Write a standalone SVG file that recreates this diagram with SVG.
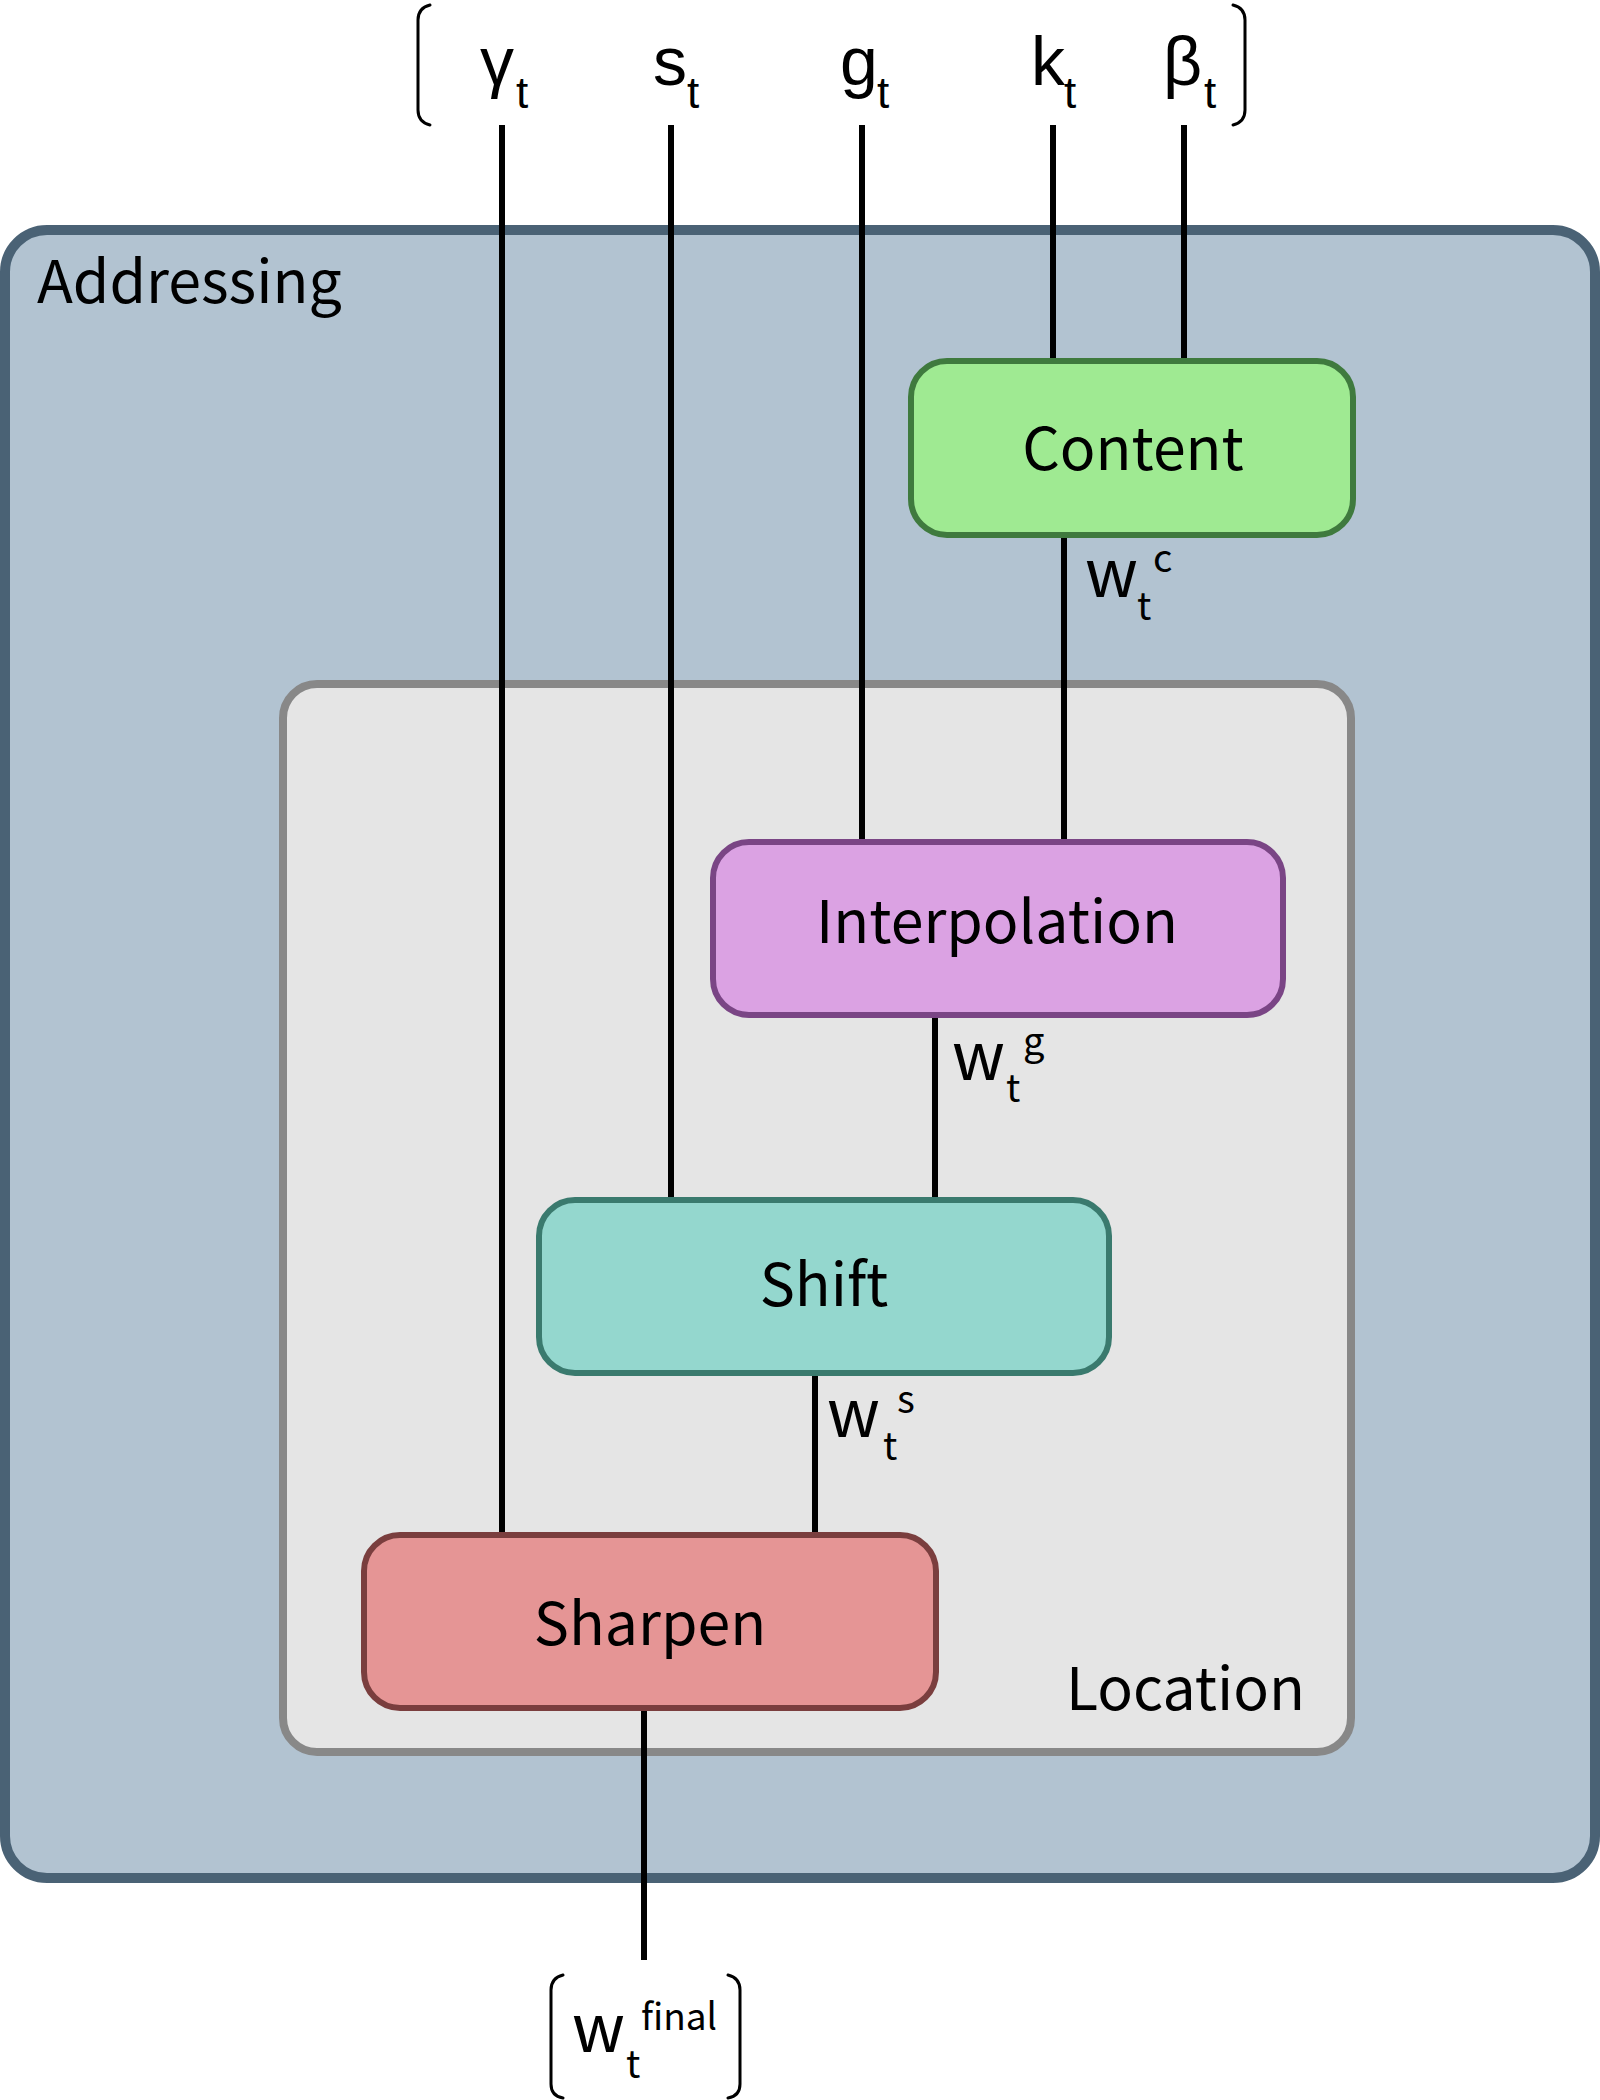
<svg xmlns="http://www.w3.org/2000/svg" width="1600" height="2100" viewBox="0 0 1600 2100">
<style>
.lbl{font-family:"Noto Sans CJK JP","Source Sans Pro","Noto Sans",sans-serif;fill:#000}
.big{font-size:59px}
.sym{font-family:"Liberation Sans",Arial,sans-serif;fill:#000}
.wire{stroke:#000;stroke-width:6;fill:none}
.brk{stroke:#000;stroke-width:3;fill:none;stroke-linecap:round}
.node{stroke-width:6}
</style>
<rect width="1600" height="2100" fill="#ffffff"/>
<g id="addressing">
<rect x="5" y="230" width="1590" height="1648" rx="42" fill="#B2C3D1" stroke="#4A6275" stroke-width="10"/>
<text class="lbl big" x="37" y="303">Addressing</text>
</g>
<g id="location">
<rect x="283" y="684" width="1068" height="1068" rx="34" fill="#E5E5E5" stroke="#888888" stroke-width="8"/>
<text class="lbl big" x="1305" y="1710" text-anchor="end">Location</text>
</g>
<g id="connectors">
<line class="wire" x1="502" y1="125" x2="502" y2="1535"/>
<line class="wire" x1="671" y1="125" x2="671" y2="1200"/>
<line class="wire" x1="862" y1="125" x2="862" y2="842"/>
<line class="wire" x1="1053" y1="125" x2="1053" y2="361"/>
<line class="wire" x1="1184" y1="125" x2="1184" y2="361"/>
<line class="wire" x1="1064" y1="535" x2="1064" y2="842"/>
<line class="wire" x1="935" y1="1015" x2="935" y2="1200"/>
<line class="wire" x1="815" y1="1373" x2="815" y2="1535"/>
<line class="wire" x1="644" y1="1708" x2="644" y2="1960"/>
</g>
<g id="content">
<rect class="node" x="911" y="361" width="442" height="174" rx="36" fill="#9FEA92" stroke="#3F7A3E"/>
<text class="lbl big" x="1133" y="470" text-anchor="middle">Content</text>
</g>
<g id="interpolation">
<rect class="node" x="713" y="842" width="570" height="173" rx="36" fill="#DBA2E3" stroke="#7A4585"/>
<text class="lbl big" x="997" y="943" text-anchor="middle">Interpolation</text>
</g>
<g id="shift">
<rect class="node" x="539" y="1200" width="570" height="173" rx="36" fill="#94D7CE" stroke="#3A7A6E"/>
<text class="lbl big" x="824" y="1306" text-anchor="middle">Shift</text>
</g>
<g id="sharpen">
<rect class="node" x="364" y="1535" width="572" height="173" rx="36" fill="#E59595" stroke="#7A3E3E"/>
<text class="lbl big" x="650" y="1645" text-anchor="middle">Sharpen</text>
</g>
<g id="inputs">
<path class="brk" d="M430,5 Q418,8 418,20 L418,110 Q418,122 430,125"/>
<path class="brk" d="M1233,5 Q1245,8 1245,20 L1245,110 Q1245,122 1233,125"/>
<text class="sym" font-size="68" y="85"><tspan x="480">γ</tspan><tspan x="516" y="108" font-size="44">t</tspan></text>
<text class="sym" font-size="68" y="85"><tspan x="653">s</tspan><tspan x="687" y="108" font-size="44">t</tspan></text>
<text class="sym" font-size="68" y="85"><tspan x="840">g</tspan><tspan x="877" y="108" font-size="44">t</tspan></text>
<text class="sym" font-size="68" y="85"><tspan x="1031">k</tspan><tspan x="1064" y="108" font-size="44">t</tspan></text>
<text class="sym" font-size="68" y="85"><tspan x="1163">β</tspan><tspan x="1204" y="108" font-size="44">t</tspan></text>
</g>
<g id="labels">
<text class="lbl" font-size="66"><tspan x="1085" y="597">w</tspan><tspan x="1137" y="620" font-size="38">t</tspan><tspan x="1153" y="572" font-size="38">c</tspan></text>
<text class="lbl" font-size="66"><tspan x="952" y="1080">w</tspan><tspan x="1006" y="1102" font-size="38">t</tspan><tspan x="1023" y="1055" font-size="38">g</tspan></text>
<text class="lbl" font-size="66"><tspan x="827" y="1437">w</tspan><tspan x="883" y="1460" font-size="38">t</tspan><tspan x="897" y="1413" font-size="38">s</tspan></text>
</g>
<g id="output">
<path class="brk" d="M563,1975 Q551,1978 551,1990 L551,2084 Q551,2096 563,2098"/>
<path class="brk" d="M728,1975 Q740,1978 740,1990 L740,2084 Q740,2096 728,2098"/>
<text class="lbl" font-size="66"><tspan x="572" y="2052">w</tspan><tspan x="626" y="2078" font-size="38">t</tspan><tspan x="641" y="2030" font-size="37">final</tspan></text>
</g>
</svg>
